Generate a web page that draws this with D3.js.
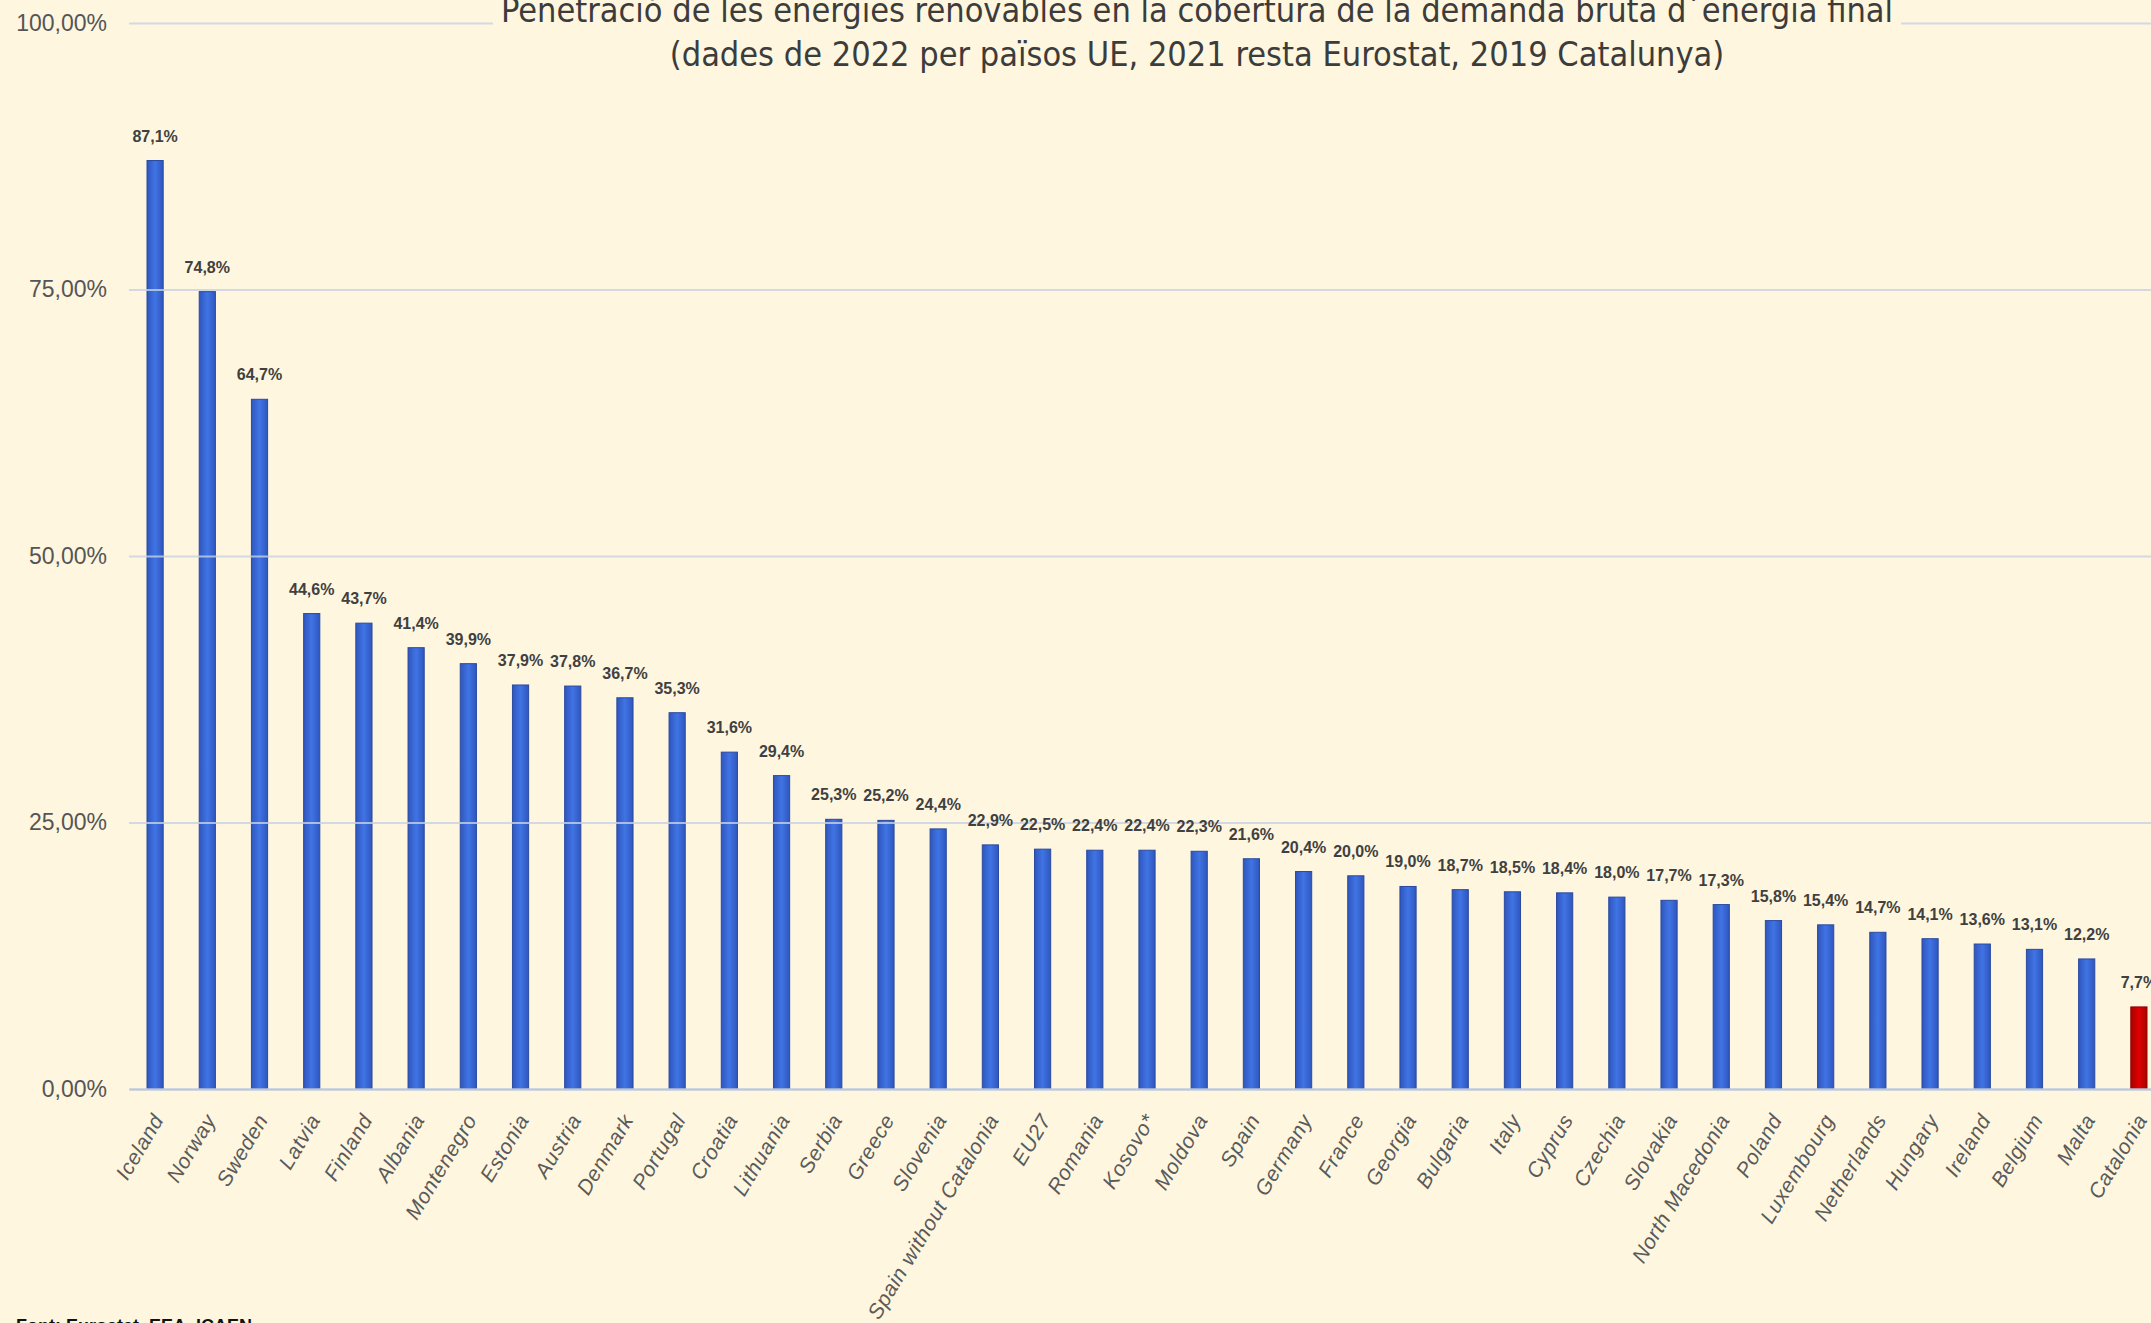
<!DOCTYPE html>
<html>
<head>
<meta charset="utf-8">
<script src="https://cdn.jsdelivr.net/npm/d3@7"></script>
<style>
  html, body { margin: 0; padding: 0; background: #fef6df; overflow: hidden; }
</style>
</head>
<body>
<div id="chart"></div>
<script>
var countries = ["Iceland", "Norway", "Sweden", "Latvia", "Finland", "Albania", "Montenegro",
  "Estonia", "Austria", "Denmark", "Portugal", "Croatia", "Lithuania", "Serbia", "Greece",
  "Slovenia", "Spain without Catalonia", "EU27", "Romania", "Kosovo*", "Moldova", "Spain",
  "Germany", "France", "Georgia", "Bulgaria", "Italy", "Cyprus", "Czechia", "Slovakia",
  "North Macedonia", "Poland", "Luxembourg", "Netherlands", "Hungary", "Ireland", "Belgium",
  "Malta", "Catalonia"];
var shares = [87.1, 74.8, 64.7, 44.6, 43.7, 41.4, 39.9, 37.9, 37.8, 36.7, 35.3, 31.6, 29.4,
  25.3, 25.2, 24.4, 22.9, 22.5, 22.4, 22.4, 22.3, 21.6, 20.4, 20.0, 19.0, 18.7, 18.5, 18.4,
  18.0, 17.7, 17.3, 15.8, 15.4, 14.7, 14.1, 13.6, 13.1, 12.2, 7.7];
var highlighted = ["Catalonia"];
var yTicks = [0, 25, 50, 75, 100];
var titleLines = ["Penetració de les energies renovables en la cobertura de la demanda bruta d´energia final",
  "(dades de 2022 per països UE, 2021 resta Eurostat, 2019 Catalunya)"];
var sourceText = "Font: Eurostat, EEA, ICAEN";

var W = 2151, H = 1323;
var bg = "#fef6df";
var plotLeft = 129, plotRight = 2165, plotTop = 23, plotBottom = 1089;

var svg = d3.select("#chart").append("svg")
    .attr("width", W)
    .attr("height", H)
    .style("display", "block");

svg.append("rect").attr("width", W).attr("height", H).attr("fill", bg);

var defs = svg.append("defs");
function gradient(id, edge, mid) {
  var g = defs.append("linearGradient").attr("id", id)
      .attr("x1", "0%").attr("x2", "100%").attr("y1", "0%").attr("y2", "0%");
  g.append("stop").attr("offset", "0%").attr("stop-color", edge);
  g.append("stop").attr("offset", "50%").attr("stop-color", mid);
  g.append("stop").attr("offset", "100%").attr("stop-color", edge);
}
gradient("blueBar", "#2f56be", "#4074e4");
gradient("redBar", "#a80000", "#e00000");

var x = d3.scaleBand()
    .domain(countries)
    .range([plotLeft, plotRight])
    .paddingInner(0.69)
    .paddingOuter(0.345);

var y = d3.scaleLinear()
    .domain([0, 100])
    .range([plotBottom, plotTop]);

var data = countries.map(function(c, i) { return {name: c, value: shares[i]}; });

// bars
svg.append("g").selectAll("rect")
  .data(data)
  .join("rect")
    .attr("x", function(d) { return x(d.name); })
    .attr("y", function(d) { return y(d.value); })
    .attr("width", x.bandwidth())
    .attr("height", function(d) { return y(0) - y(d.value); })
    .attr("fill", function(d) { return highlighted.indexOf(d.name) >= 0 ? "url(#redBar)" : "url(#blueBar)"; })
    .attr("stroke", function(d) { return highlighted.indexOf(d.name) >= 0 ? "#900000" : "#2a4aa0"; })
    .attr("stroke-width", 1);

// y axis + gridlines (drawn over bars, as in the original)
var yAxis = svg.append("g")
    .attr("transform", "translate(" + plotLeft + ",0)")
    .call(d3.axisLeft(y)
      .tickValues(yTicks)
      .tickSize(-(W - plotLeft))
      .tickPadding(22)
      .tickFormat(function(d) { return d3.format(".2f")(d).replace(".", ",") + "%"; }));
yAxis.select(".domain").remove();
yAxis.selectAll(".tick line")
    .attr("stroke", "#c8d2e2")
    .attr("stroke-width", 2)
    .attr("stroke-opacity", 0.8);
yAxis.selectAll(".tick text")
    .attr("fill", "#555")
    .style("font-family", "'Liberation Sans', Arial, sans-serif")
    .style("font-size", "23px");

// x axis
var xAxis = svg.append("g")
    .attr("transform", "translate(0," + plotBottom + ")")
    .call(d3.axisBottom(x).tickSize(0).tickPadding(0));
xAxis.select(".domain")
    .attr("stroke", "#b9c8dc")
    .attr("stroke-width", 2);
xAxis.selectAll(".tick text")
    .attr("fill", "#5a5a5a")
    .style("font-family", "'Liberation Sans', Arial, sans-serif")
    .style("font-style", "italic")
    .style("font-size", "21px")
    .style("letter-spacing", "0.6px")
    .attr("y", 0)
    .attr("text-anchor", "end")
    .attr("dy", "0.35em")
    .attr("transform", "translate(3,27) rotate(-59)");

// value labels
svg.append("g").selectAll("text")
  .data(data)
  .join("text")
    .attr("x", function(d) { return x(d.name) + x.bandwidth() / 2; })
    .attr("y", function(d) { return y(d.value) - 19; })
    .attr("text-anchor", "middle")
    .attr("fill", "#404040")
    .style("font-family", "'Liberation Sans Narrow', 'Liberation Sans', Arial, sans-serif")
    .style("font-weight", "bold")
    .style("font-size", "16px")
    .text(function(d) { return d3.format(".1f")(d.value).replace(".", ",") + "%"; });

// title
var title = svg.append("g");
var t1 = title.append("text")
    .attr("x", 1197)
    .attr("y", 22)
    .attr("text-anchor", "middle")
    .attr("fill", "#3c3c3c")
    .style("font-family", "'Liberation Sans Narrow', 'DejaVu Sans Condensed', sans-serif")
    .style("font-size", "34px")
    .text(titleLines[0]);
var bb = t1.node().getBBox();
title.insert("rect", "text")
    .attr("x", bb.x - 8)
    .attr("y", 0)
    .attr("width", bb.width + 16)
    .attr("height", 40)
    .attr("fill", bg);
title.append("text")
    .attr("x", 1197)
    .attr("y", 66)
    .attr("text-anchor", "middle")
    .attr("fill", "#3c3c3c")
    .style("font-family", "'Liberation Sans Narrow', 'DejaVu Sans Condensed', sans-serif")
    .style("font-size", "34px")
    .text(titleLines[1]);

// source
svg.append("text")
    .attr("x", 16)
    .attr("y", 1332)
    .attr("fill", "#111")
    .style("font-family", "'Liberation Sans Narrow', 'Liberation Sans', Arial, sans-serif")
    .style("font-weight", "bold")
    .style("font-size", "18px")
    .text(sourceText);
</script>
</body>
</html>
